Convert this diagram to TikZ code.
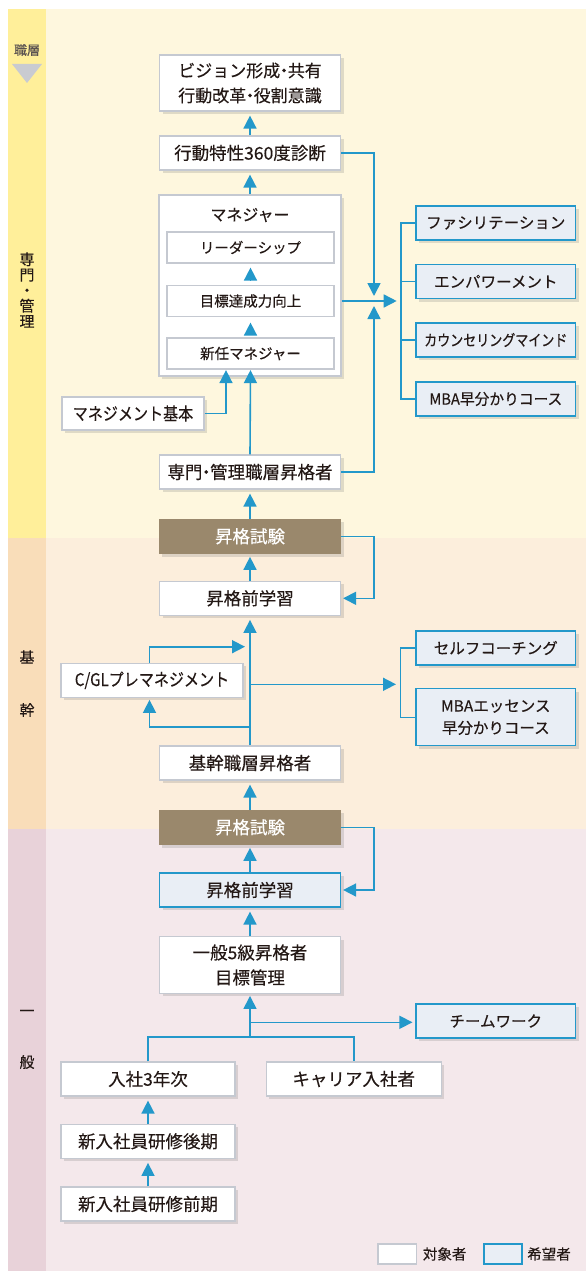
\documentclass[tikz,border=0pt]{standalone}
\usepackage{fontspec}
\usepackage{graphicx}
\setmainfont{Noto Sans CJK JP}[FakeBold=0.3]
\usetikzlibrary{arrows.meta,shadows}
\newcommand{\ndot}{\hspace{-0.28em}・\hspace{-0.28em}}
\definecolor{yelS}{HTML}{FFEF9A}
\definecolor{yelA}{HTML}{FEF7DE}
\definecolor{orgS}{HTML}{F9DDB9}
\definecolor{orgA}{HTML}{FCEEDC}
\definecolor{pnkS}{HTML}{E8D2D9}
\definecolor{pnkA}{HTML}{F4E8EB}
\definecolor{brn}{HTML}{9A886C}
\definecolor{blu}{HTML}{2398CA}
\definecolor{bfill}{HTML}{E9EEF5}
\definecolor{bgray}{HTML}{C5C9D1}
\definecolor{txt}{HTML}{231815}
\definecolor{trig}{HTML}{C9CBD1}
\tikzset{
  shad/.style={drop shadow={shadow xshift=3pt,shadow yshift=-3pt,opacity=0.22,fill=black!55}},
  box/.style={draw=bgray,line width=1.2pt,fill=white,minimum width=181pt,minimum height=34pt,inner sep=0pt,text=txt,font=\fontsize{17.5}{25}\selectfont,align=center,shad},
  ibox/.style={draw=bgray,line width=1.2pt,fill=white,minimum width=167pt,minimum height=31pt,inner sep=0pt,text=txt,font=\fontsize{14.5}{20}\selectfont},
  rbox/.style={draw=blu,line width=1.2pt,fill=bfill,minimum width=159.5pt,minimum height=34pt,inner sep=0pt,text=txt,font=\fontsize{15.5}{22}\selectfont,align=center,shad},
  exam/.style={fill=brn,minimum width=181.5pt,minimum height=34.7pt,inner sep=0pt,text=white,font=\fontsize{17.5}{20}\selectfont,shad},
  lbl/.style={text=txt,inner sep=0pt,font=\fontsize{15}{18}\selectfont},
  line/.style={draw=blu,line width=1.6pt},
  arr/.style={line,-{Triangle[length=13pt,width=13pt]},shorten >=4pt},
}
\begin{document}
\begin{tikzpicture}[x=1pt,y=-1pt]
\useasboundingbox (0,0) rectangle (586,1271);
\fill[white] (0,0) rectangle (586,1271);
\fill[yelA] (46,9) rectangle (586,538);
\fill[yelS] (8,9) rectangle (46,538);
\fill[orgA] (46,538) rectangle (586,829);
\fill[orgS] (8,538) rectangle (46,829);
\fill[pnkA] (46,829) rectangle (586,1271);
\fill[pnkS] (8,829) rectangle (46,1271);

% layer labels
\node[lbl,text=txt!75,font=\fontsize{13}{15}\selectfont] (l0) at (27,50) {職層};
\fill[trig] (12,64) -- (42,64) -- (27,83) -- cycle;
\node[lbl,align=center,font=\fontsize{15}{15.5}\selectfont] (la) at (27,290) {専\\門\\・\\管\\理};
\node[lbl] (lb1) at (27,657) {基};
\node[lbl] (lb2) at (27,710) {幹};
\node[lbl] (lc1) at (27,1013) {一};
\node[lbl] (lc2) at (27,1062) {般};

% main column
\node[box,minimum height=56pt,font=\fontsize{17}{25}\selectfont] (vision) at (250,83) {ビジョン形成\ndot 共有\\行動改革\ndot 役割意識};
\node[box] (diag) at (250,153) {行動特性360度診断};
\node[box,minimum height=181pt,minimum width=182pt] (mgr) at (250,285.5) {};
\node[lbl,font=\fontsize{16}{18}\selectfont] (mgrt) at (250,215) {マネジャー};
\node[ibox] (leader) at (250.5,247.5) {リーダーシップ};
\node[ibox] (goal) at (250.5,301) {目標達成力向上};
\node[ibox] (newmgr) at (250.5,353.5) {新任マネジャー};
\node[box,minimum width=142pt,minimum height=33pt] (mbasic) at (133,413.5) {\scalebox{0.86}[1]{マネジメント基本}};
\node[box] (senmon) at (250,472) {専門\ndot 管理職層昇格者};
\node[exam] (exam1) at (250,536.3) {昇格試験};
\node[box] (pre1) at (250,598.3) {昇格前学習};
\node[box,minimum width=182pt] (cgl) at (152,680.3) {\scalebox{0.86}[1]{C/GLプレマネジメント}};
\node[box] (kikan) at (250,763) {基幹職層昇格者};
\node[exam] (exam2) at (250,827.3) {昇格試験};
\node[rbox,minimum width=181pt,font=\fontsize{17.5}{20}\selectfont] (pre2) at (250,890) {昇格前学習};
\node[box,minimum height=56.7pt] (ippan) at (250,965) {一般5級昇格者\\目標管理};
\node[box,minimum width=174pt] (nyu3) at (148,1079) {入社3年次};
\node[box,minimum width=175pt] (career) at (353.7,1079) {キャリア入社者};
\node[box,minimum width=174pt] (kouki) at (148,1141.3) {新入社員研修後期};
\node[box,minimum width=174pt] (zenki) at (148,1204) {新入社員研修前期};

% right column
\node[rbox] (facil) at (495.8,223) {ファシリテーション};
\node[rbox] (empower) at (495.8,281.5) {エンパワーメント};
\node[rbox] (counsel) at (495.8,340) {\scalebox{0.84}[1]{カウンセリングマインド}};
\node[rbox] (mba1) at (495.8,399) {\scalebox{0.95}[1]{MBA早分かりコース}};
\node[rbox] (self) at (495.8,648) {セルフコーチング};
\node[rbox,minimum height=57pt] (mbaess) at (495.8,717.3) {MBAエッセンス\\早分かりコース};
\node[rbox] (team) at (495.8,1021) {チームワーク};

% legend
\node[draw=bgray,line width=1.2pt,fill=white,minimum width=38.7pt,minimum height=20pt,inner sep=0pt] (lg1) at (397.3,1254) {};
\node[lbl,font=\fontsize{14.5}{16}\selectfont] (lt1) at (444.7,1254) {対象者};
\node[draw=blu,line width=1.2pt,fill=bfill,minimum width=38pt,minimum height=20pt,inner sep=0pt] (lg2) at (503,1254) {};
\node[lbl,font=\fontsize{14.5}{16}\selectfont] (lt2) at (549,1254) {希望者};

% connectors: top
\coordinate (hubA) at (374,296);
\coordinate (hubB) at (374,306);
\coordinate (brT) at (400.7,301);
\draw[arr,shorten >=0pt] (diag.east) -| (hubA);
\draw[arr,shorten >=0pt] (senmon.east) -| (hubB);
\draw[arr] (mgr.east |- goal.center) -- (brT);
\draw[line] (facil.west) -| (brT) |- (mba1.west);
\draw[line] (empower.west) -- (empower.west -| brT);
\draw[line] (counsel.west) -- (counsel.west -| brT);

\draw[arr] (diag.north) -- (vision.south);
\draw[arr] (mgr.north) -- (diag.south);
\draw[arr,shorten <=4pt] (goal.north) -- (leader.south);
\draw[arr,shorten <=3pt,shorten >=5.5pt] (newmgr.north) -- (goal.south);
\coordinate (mbx) at (226,413.5);
\draw[arr,shorten >=0.5pt] (senmon.north) -- (newmgr.south);
\draw[arr,shorten >=0.5pt] (mbasic.east) -| (mbx |- newmgr.south);

% kikan section
\draw[arr] (exam1.north) -- (senmon.south);
\draw[arr,shorten >=3pt] (pre1.north) -- (exam1.south);
\draw[arr,shorten >=2pt] (exam1.east) -- ++(33,0) |- (pre1.east);
\draw[arr] (kikan.north) -- (pre1.south);
\coordinate (jc1) at (250,646.7);
\coordinate (jc2) at (250,726.7);
\coordinate (jc3) at (250,684.3);
\coordinate (brK) at (400.6,684.3);
\coordinate (cglx) at (149.5,680);
\draw[arr,shorten >=5pt] (cglx |- cgl.north) |- (jc1);
\draw[arr,shorten >=2pt] (jc2) -| (cglx |- cgl.south);
\draw[arr,shorten >=4.6pt] (jc3) -- (brK);
\draw[line] (self.west) -| (brK) |- (mbaess.west);

% ippan section
\draw[arr] (exam2.north) -- (kikan.south);
\draw[arr,shorten >=3pt] (pre2.north) -- (exam2.south);
\draw[arr,shorten >=2pt] (exam2.east) -- ++(33,0) |- (pre2.east);
\draw[arr] (ippan.north) -- (pre2.south);
\coordinate (jb) at (250,1036.7);
\coordinate (jt) at (250,1022.3);
\draw[line] (nyu3.north) |- (jb) -| (career.north);
\draw[arr,shorten >=2pt] (jb) -- (ippan.south);
\draw[arr,shorten >=3pt] (jt) -- (jt -| team.west);
\draw[arr] (kouki.north) -- (nyu3.south);
\draw[arr] (zenki.north) -- (kouki.south);
\end{tikzpicture}
\end{document}
